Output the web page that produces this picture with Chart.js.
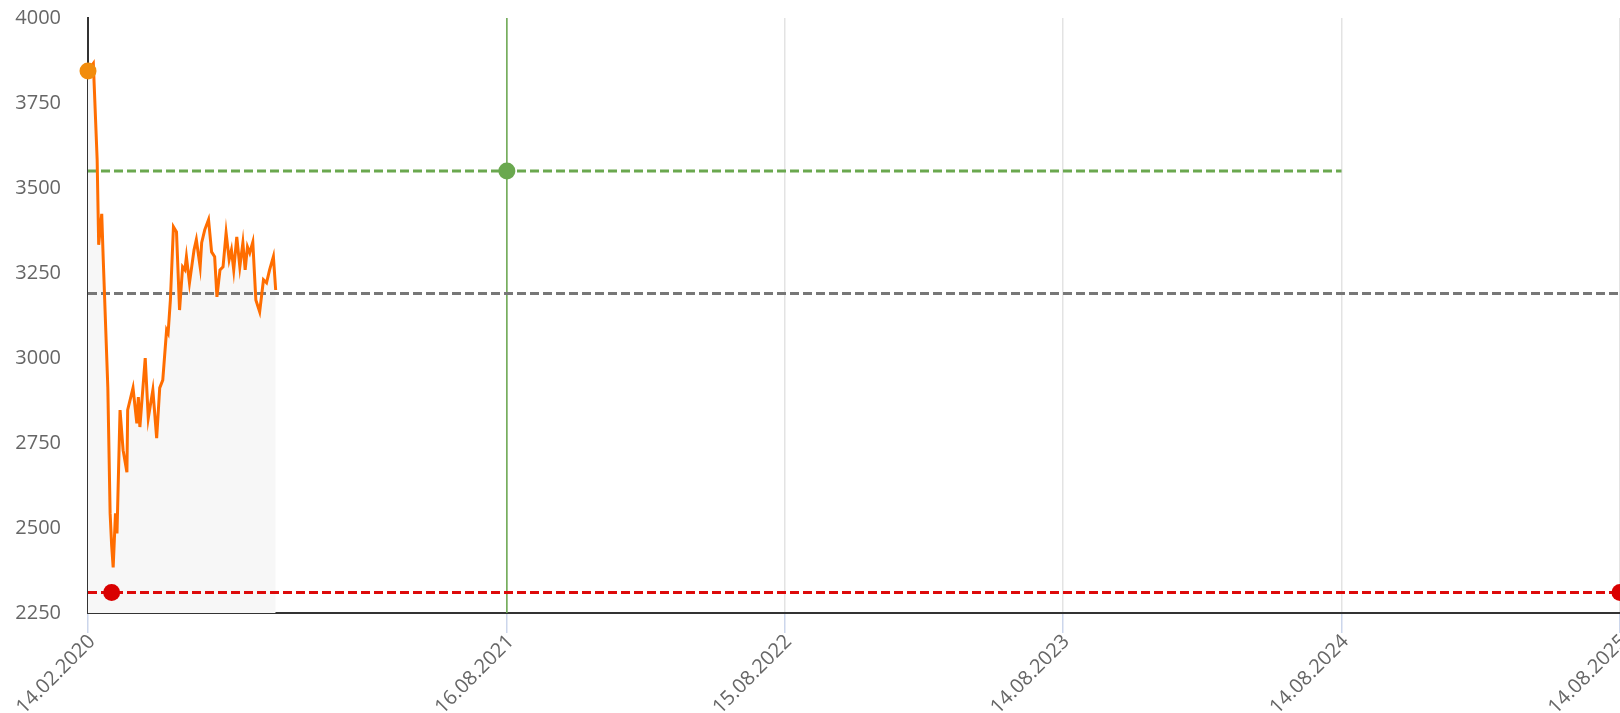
<!DOCTYPE html>
<html>
<head>
<meta charset="utf-8">
<title>Price chart</title>
<script src="https://cdn.jsdelivr.net/npm/chart.js@4.4.1/dist/chart.umd.min.js"></script>
<style>
  html, body { margin: 0; padding: 0; background: #fff; overflow: hidden; }
  .chart-box { position: relative; width: 1620px; height: 713px; }
</style>
</head>
<body>
<div class="chart-box"><canvas id="PriceChart"></canvas></div>
<script>
//price history
const priceDates = ['14.02.2020', '21.02.2020', '26.02.2020', '28.02.2020', '03.03.2020', '05.03.2020', '11.03.2020', '14.03.2020',
  '16.03.2020', '18.03.2020', '21.03.2020', '23.03.2020', '27.03.2020', '31.03.2020', '05.04.2020', '06.04.2020',
  '13.04.2020', '18.04.2020', '20.04.2020', '22.04.2020', '29.04.2020', '03.05.2020', '09.05.2020', '14.05.2020',
  '18.05.2020', '22.05.2020', '27.05.2020', '29.05.2020', '01.06.2020', '05.06.2020', '09.06.2020', '13.06.2020',
  '17.06.2020', '20.06.2020', '22.06.2020', '26.06.2020', '02.07.2020', '05.07.2020', '10.07.2020', '12.07.2020',
  '16.07.2020', '21.07.2020', '25.07.2020', '29.07.2020', '01.08.2020', '05.08.2020', '09.08.2020', '13.08.2020',
  '17.08.2020', '20.08.2020', '23.08.2020', '27.08.2020', '31.08.2020', '04.09.2020', '07.09.2020', '10.09.2020',
  '13.09.2020', '17.09.2020', '21.09.2020', '26.09.2020', '01.10.2020', '05.10.2020', '09.10.2020', '14.10.2020',
  '17.10.2020'];
const priceValues = [3844, 3866, 3583, 3333, 3424, 3289, 2912, 2543,
  2449, 2384, 2543, 2484, 2847, 2729, 2664, 2847,
  2912, 2808, 2885, 2797, 3000, 2823, 2906, 2764,
  2912, 2935, 3082, 3073, 3171, 3386, 3371, 3141,
  3268, 3259, 3298, 3221, 3318, 3348, 3268, 3339,
  3377, 3407, 3312, 3298, 3180, 3259, 3268, 3368,
  3289, 3318, 3259, 3356, 3268, 3339, 3259, 3327,
  3309, 3341, 3171, 3136, 3230, 3221, 3259, 3298,
  3200];

//levels
const targetDates = ['14.02.2020', '16.08.2021', '14.08.2024'];
const targetValues = [3550, 3550, 3550];
const averageDates = ['14.02.2020', '14.08.2025'];
const averageValues = [3190, 3190];
const stopDates = ['14.02.2020', '16.03.2020', '14.08.2025'];
const stopValues = [2310, 2310, 2310];
const markerDates = ['16.08.2021', '16.08.2021'];
const markerValues = [2250, 4000];

//axes
const tickDates = ['14.02.2020', '16.08.2021', '15.08.2022', '14.08.2023', '14.08.2024', '14.08.2025'];
const yMin = 2250;
const yMax = 4000;
const yStep = 250;

function toDay(str) {
  const p = str.split('.');
  const s = tickDates[0].split('.');
  return (Date.UTC(+p[2], +p[1] - 1, +p[0]) - Date.UTC(+s[2], +s[1] - 1, +s[0])) / 86400000;
}

function toPoints(dates, values) {
  return dates.map(function (d, i) {
    return { x: toDay(d), y: values[i] };
  });
}

const labelFont = { family: '"Open Sans", sans-serif', size: 20 };

const ctx = document.getElementById('PriceChart');

new Chart(ctx, {
  type: 'line',
  data: {
    datasets: [{
      label: 'Price',
      data: toPoints(priceDates, priceValues),
      borderColor: '#ff6d00',
      borderWidth: 3,
      backgroundColor: '#f7f7f7',
      fill: 'start',
      pointRadius: (c) => c.dataIndex === 0 ? 8.5 : 0,
      pointBackgroundColor: '#f28c0c',
      pointBorderWidth: 0,
      tension: 0,
      clip: false
    }, {
      label: 'Target',
      data: toPoints(targetDates, targetValues),
      borderColor: '#6aa84f',
      borderWidth: 3,
      borderDash: [9, 4],
      pointRadius: (c) => c.dataIndex === 1 ? 8.5 : 0,
      pointBackgroundColor: '#6aa84f',
      pointBorderWidth: 0,
      fill: false,
      clip: false
    }, {
      label: 'Average',
      data: toPoints(averageDates, averageValues),
      borderColor: '#777777',
      borderWidth: 3,
      borderDash: [9, 4],
      pointRadius: 0,
      fill: false
    }, {
      label: 'Stop',
      data: toPoints(stopDates, stopValues),
      borderColor: '#dd0a0a',
      borderWidth: 3,
      borderDash: [9, 4],
      pointRadius: (c) => c.dataIndex > 0 ? 8.5 : 0,
      pointBackgroundColor: '#d90000',
      pointBorderWidth: 0,
      fill: false,
      clip: false
    }, {
      label: 'Marker',
      data: toPoints(markerDates, markerValues),
      borderColor: '#6aa84f',
      borderWidth: 1.5,
      pointRadius: 0,
      fill: false
    }]
  },
  options: {
    responsive: true,
    maintainAspectRatio: false,
    animation: false,
    layout: { autoPadding: false, padding: { top: 18, left: 0, right: 0, bottom: 0 } },
    plugins: {
      legend: { display: false },
      tooltip: { enabled: false },
      filler: { drawTime: 'beforeDatasetsDraw' }
    },
    scales: {
      x: {
        type: 'linear',
        min: toDay(tickDates[0]),
        max: toDay(tickDates[tickDates.length - 1]),
        afterBuildTicks: function (axis) {
          axis.ticks = tickDates.map(function (d) { return { value: toDay(d) }; });
        },
        afterFit: function (axis) {
          axis.height = 100;
          axis.paddingLeft = 0;
          axis.paddingRight = 0;
        },
        grid: {
          color: '#e3e3e3',
          lineWidth: 1.5,
          tickColor: '#ccd6eb',
          tickLength: 20
        },
        border: { color: '#333333', width: 2 },
        ticks: {
          autoSkip: false,
          minRotation: 45,
          maxRotation: 45,
          padding: -3,
          labelOffset: 4,
          color: '#666666',
          font: labelFont,
          callback: function (value, index) { return tickDates[index]; }
        }
      },
      y: {
        min: yMin,
        max: yMax,
        afterFit: function (axis) {
          axis.width = 88;
          axis.paddingTop = 0;
          axis.paddingBottom = 0;
        },
        grid: { display: false, drawTicks: false },
        border: { color: '#333333', width: 2 },
        ticks: {
          stepSize: yStep,
          padding: 27,
          color: '#666666',
          font: labelFont,
          callback: function (value) { return String(value); }
        }
      }
    }
  }
});
</script>
</body>
</html>
